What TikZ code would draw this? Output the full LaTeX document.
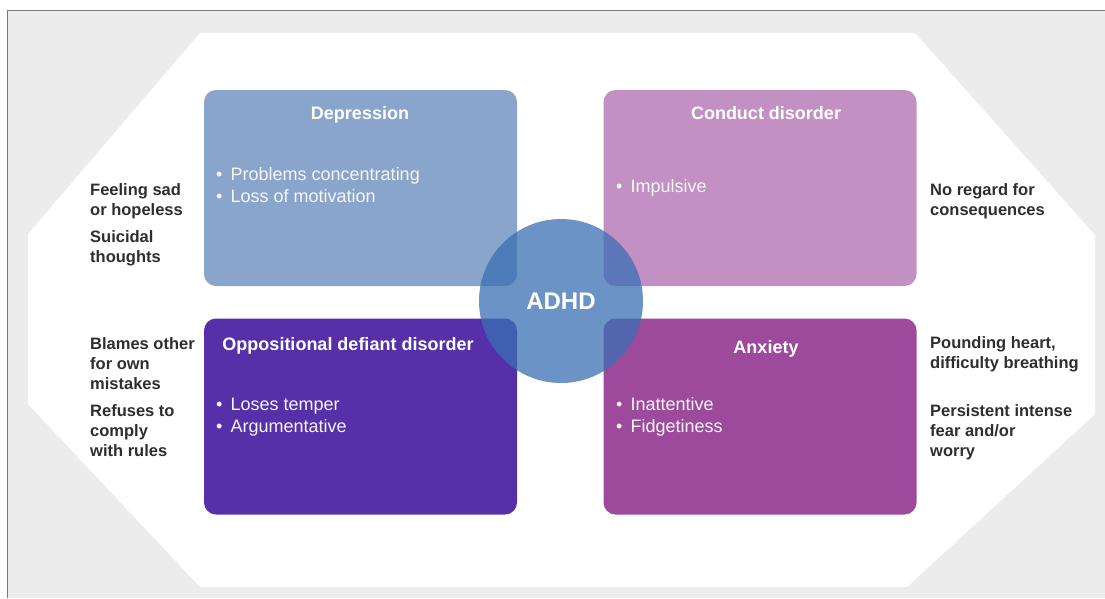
\documentclass[tikz,border=0pt]{standalone}
\usepackage{fontspec}
\setmainfont{Liberation Sans}
\definecolor{framegray}{HTML}{ECECEC}
\definecolor{framedraw}{HTML}{7A7A7A}
\definecolor{deprcol}{HTML}{8AA5CC}
\definecolor{condcol}{HTML}{C390C3}
\definecolor{oddcol}{HTML}{5530A8}
\definecolor{anxcol}{HTML}{9D4A9D}
\definecolor{adhdcol}{HTML}{3A6FB3}
\definecolor{sidegray}{HTML}{2E2E2E}
\newcommand{\itm}[1]{\makebox[17.5pt][l]{\,•}#1}

\begin{document}
\begin{tikzpicture}[x=1pt, y=-1pt,
  box/.style={rectangle, rounded corners=12pt, minimum width=313pt, minimum height=196pt, inner sep=0pt},
  head/.style={font=\fontsize{18}{22}\selectfont\bfseries, text=white, anchor=base, inner sep=0pt},
  item/.style={font=\fontsize{18}{22}\selectfont, text=white!93!gray, anchor=base west, align=left, inner sep=0pt},
  side/.style={font=\fontsize{16.5}{20}\selectfont\bfseries, text=sidegray, anchor=base west, align=left, inner sep=0pt}]
				\useasboundingbox (0,0) rectangle (1105,598);
				\fill[framegray] (7.5,10.5) rectangle (1105,598);
				\draw[framedraw, line width=1.2pt] (7.5,598) -- (7.5,10.5) -- (1105,10.5);
				\fill[white] (200,33) -- (915,33) -- (1095,235) -- (1095,414) -- (907,587) -- (200,587) -- (28,404) -- (28,234) -- cycle;
				\node[box, fill=deprcol] (depr) at (360.5,188) {};
				\node[box, fill=condcol] (cond) at (760,188) {};
				\node[box, fill=oddcol] (odd) at (360.5,416.5) {};
				\node[box, fill=anxcol] (anx) at (760,416.5) {};
				\node[circle, fill=adhdcol, fill opacity=0.75, text opacity=1, minimum size=164pt, inner sep=0pt, text=white, font=\fontsize{24}{28}\selectfont\bfseries] (adhd) at (561,301) {ADHD};
				\node[head] (deprhead) at (360,119) {Depression};
				\node[head] (condhead) at (766,119) {Conduct disorder};
				\node[head] (oddhead) at (348,350) {Oppositional defiant disorder};
				\node[head] (anxhead) at (766,353) {Anxiety};
				% base anchor = baseline of the last line
				\node[item] (depritems) at (213,202) {\itm{Problems concentrating}\\\itm{Loss of motivation}};
				\node[item] (conditems) at (613,192) {\itm{Impulsive}};
				\node[item] (odditems) at (213,432) {\itm{Loses temper}\\\itm{Argumentative}};
				\node[item] (anxitems) at (613,432) {\itm{Inattentive}\\\itm{Fidgetiness}};
				\node[side] (sad) at (90,215) {Feeling sad\\or hopeless};
				\node[side] (suicide) at (90,262) {Suicidal\\thoughts};
				\node[side] (blame) at (90,389) {Blames other\\for own\\mistakes};
				\node[side] (refuse) at (90,456) {Refuses to\\comply\\with rules};
				\node[side] (regard) at (930,215) {No regard for\\consequences};
				\node[side] (heart) at (930,368) {Pounding heart,\\difficulty breathing};
				\node[side] (fear) at (930,456) {Persistent intense\\fear and/or\\worry};
			\end{tikzpicture}
\end{document}
